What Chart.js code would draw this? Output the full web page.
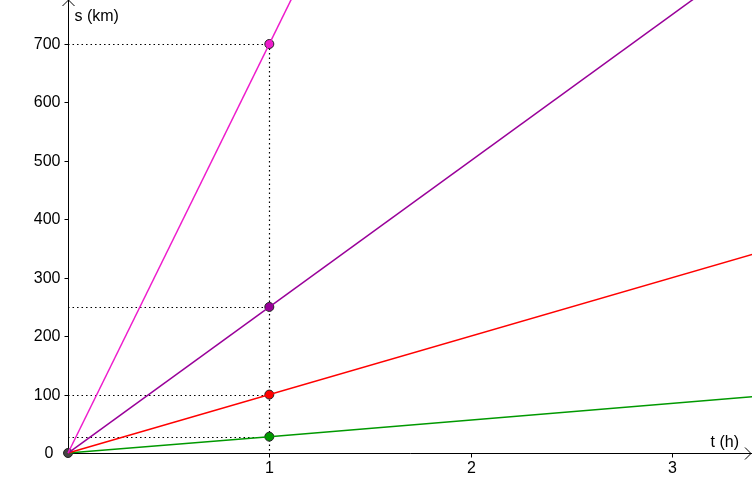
<!DOCTYPE html>
<html>
<head>
<meta charset="utf-8">
<style>
  html, body { margin: 0; padding: 0; background: #fff; }
  #wrap { width: 752px; height: 482px; }
</style>
<script src="https://cdn.jsdelivr.net/npm/chart.js@4"></script>
</head>
<body>
<div id="wrap"><canvas id="c"></canvas></div>
<script>
// lines (t in h, s in km)
const magentaLine = [{x: 0, y: 0}, {x: 1.2, y: 840}];
const purpleLine = [{x: 0, y: 0}, {x: 3.5, y: 875}];
const redLine = [{x: 0, y: 0}, {x: 3.5, y: 350}];
const greenLine = [{x: 0, y: 0}, {x: 1, y: 28}, {x: 3.5, y: 99}];

// marked points at t = 1
const pointT = [0, 1, 1, 1, 1];
const pointS = [0, 700, 250, 100, 28];
const pointColors = ['#444444', '#ee1ccc', '#990099', '#ff0000', '#009900'];

const xTicks = [1, 2, 3];
const yTicks = [0, 100, 200, 300, 400, 500, 600, 700];

const axesPlugin = {
  id: 'geoAxes',
  beforeDatasetsDraw(chart) {
    const ctx = chart.ctx;
    const xs = chart.scales.x, ys = chart.scales.y;
    const ox = xs.getPixelForValue(0), oy = ys.getPixelForValue(0);
    const px = xs.getPixelForValue(1);
    ctx.save();
    // dotted guides
    ctx.strokeStyle = '#000';
    ctx.lineWidth = 1.2;
    ctx.setLineDash([1.5, 3]);
    pointS.forEach((s, i) => {
      if (s === 0) return;
      const py = Math.round(ys.getPixelForValue(s)) + 0.5;
      ctx.beginPath();
      ctx.moveTo(ox, py);
      ctx.lineTo(px, py);
      ctx.stroke();
    });
    ctx.beginPath();
    ctx.moveTo(Math.round(px) + 0.5, ys.getPixelForValue(700));
    ctx.lineTo(Math.round(px) + 0.5, oy);
    ctx.stroke();
    ctx.setLineDash([]);

    // axes (positive parts only)
    ctx.lineWidth = 1;
    const axX = Math.round(ox) + 0.5, axY = Math.round(oy) + 0.5;
    ctx.beginPath();
    ctx.moveTo(axX, axY); ctx.lineTo(chart.width, axY);
    ctx.moveTo(axX, axY); ctx.lineTo(axX, 0);
    ctx.stroke();
    // arrows
    ctx.beginPath();
    ctx.moveTo(axX - 6, 6); ctx.lineTo(axX, 0); ctx.lineTo(axX + 6, 6);
    ctx.moveTo(chart.width - 7, axY - 6); ctx.lineTo(chart.width - 1, axY); ctx.lineTo(chart.width - 7, axY + 6);
    ctx.stroke();

    // ticks and labels
    ctx.fillStyle = '#000';
    ctx.font = '16px "Liberation Sans", Arial, sans-serif';
    ctx.textAlign = 'center';
    ctx.textBaseline = 'top';
    xTicks.forEach(t => {
      const tx = Math.round(xs.getPixelForValue(t)) + 0.5;
      ctx.beginPath(); ctx.moveTo(tx, axY); ctx.lineTo(tx, axY + 4); ctx.stroke();
      ctx.fillText(String(t), tx, axY + 7);
    });
    ctx.textAlign = 'right';
    ctx.textBaseline = 'middle';
    yTicks.forEach(v => {
      const ty = Math.round(ys.getPixelForValue(v)) + 0.5;
      if (v !== 0) {
        ctx.beginPath(); ctx.moveTo(axX - 4, ty); ctx.lineTo(axX, ty); ctx.stroke();
        ctx.fillText(String(v), axX - 8, ty);
      } else {
        ctx.fillText('0', axX - 15, ty);
      }
    });
    ctx.textAlign = 'left';
    ctx.fillText('s (km)', axX + 6, 17);
    ctx.textAlign = 'right';
    ctx.fillText('t (h)', chart.width - 13, axY - 11);
    ctx.restore();
  }
};

const lineDs = (data, color) => ({
  type: 'line', data, borderColor: color, borderWidth: 1.5,
  pointRadius: 0, pointHoverRadius: 0, fill: false, tension: 0
});

new Chart(document.getElementById('c'), {
  type: 'scatter',
  data: {
    datasets: [
      lineDs(magentaLine, '#ee1ccc'),
      lineDs(purpleLine, '#990099'),
      lineDs(redLine, '#ff0000'),
      lineDs(greenLine, '#009900'),
      {
        data: pointT.map((t, i) => ({x: t, y: pointS[i]})),
        backgroundColor: pointColors,
        borderColor: '#222',
        borderWidth: 1,
        pointRadius: 4.5,
        pointHoverRadius: 4.5
      }
    ]
  },
  options: {
    responsive: true,
    maintainAspectRatio: false,
    animation: false,
    events: [],
    layout: { padding: 0, autoPadding: false },
    plugins: { legend: { display: false }, tooltip: { enabled: false } },
    scales: {
      x: { type: 'linear', display: false, min: -0.338, max: 3.398 },
      y: { type: 'linear', display: false, min: -49.6, max: 775.3 }
    }
  },
  plugins: [axesPlugin]
});
</script>
</body>
</html>
